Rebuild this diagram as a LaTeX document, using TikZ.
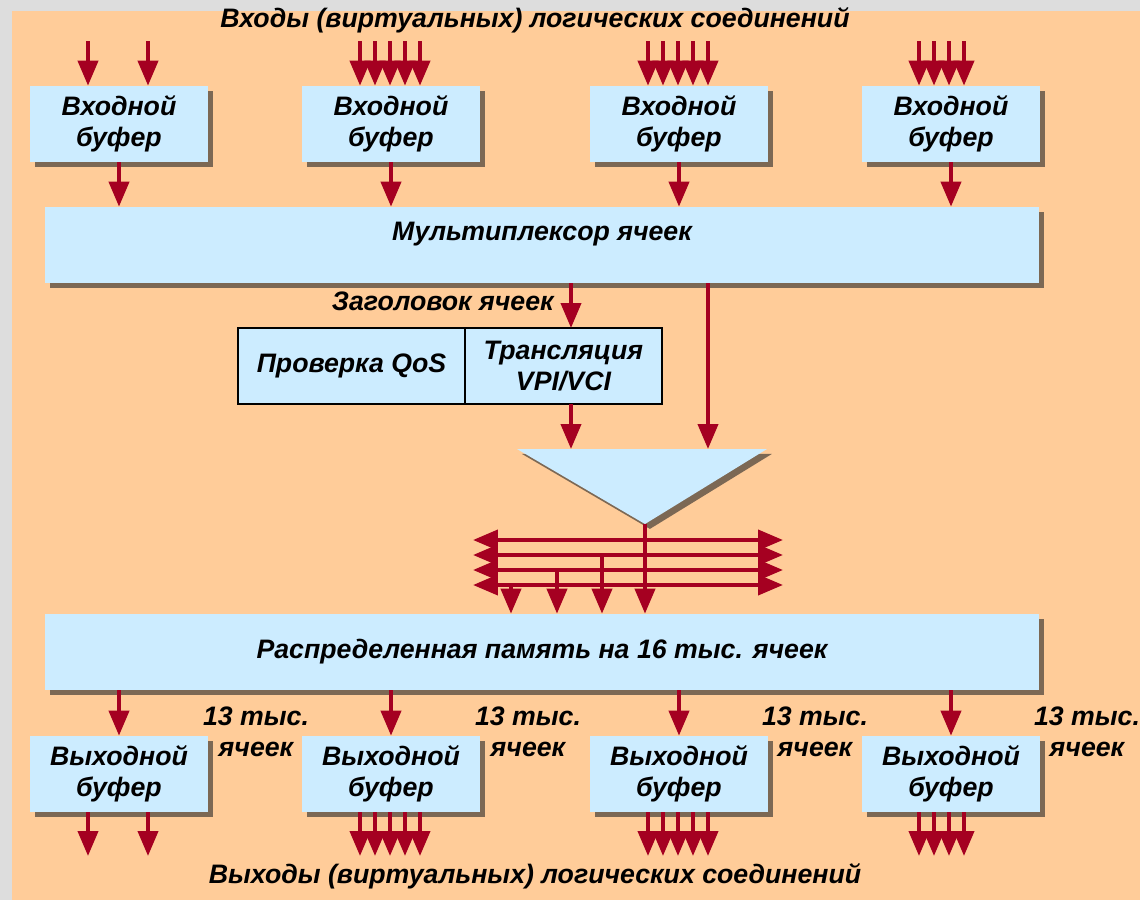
\documentclass[tikz,border=0pt]{standalone}
\usepackage{fontspec}
\setmainfont{Liberation Sans}
\usepackage{tikz}
\usetikzlibrary{arrows.meta,shadows}

\definecolor{bgorange}{RGB}{255,204,153}
\definecolor{bufblue}{RGB}{204,236,255}
\definecolor{arrred}{RGB}{165,0,33}
\definecolor{framegray}{RGB}{221,221,221}

\tikzset{
  lbl/.style={font=\fontsize{15.2}{17.6}\selectfont\bfseries\itshape, align=center, inner sep=0pt},
  shade/.style={drop shadow={shadow xshift=2.8pt, shadow yshift=-2.8pt, opacity=0.6, fill=black!85}},
  buf/.style={lbl, fill=bufblue, shade, minimum width=3.56cm, minimum height=1.52cm},
  wide/.style={buf, minimum width=19.9cm},
  hdrbox/.style={lbl, fill=bufblue, draw=black, line width=0.04cm, outer sep=0pt, minimum height=1.52cm},
  sig/.style={draw=arrred, line width=0.08cm, -{Triangle[width=0.4cm,length=0.5cm]}},
  bus/.style={sig, {Triangle[width=0.4cm,length=0.5cm]}-{Triangle[width=0.4cm,length=0.5cm]}}
}

\begin{document}
\begin{tikzpicture}[x=0.02cm, y=-0.02cm]
\useasboundingbox (0,0) rectangle (1140,900);

% grey frame and orange sheet
\fill[framegray] (0,0) rectangle (1140,900);
\fill[bgorange] (12,11) rectangle (1140,900);

% titles
\path
(535,20) node[lbl] (intitle) {Входы (виртуальных) логических соединений}
(535,876) node[lbl] (outtitle) {Выходы (виртуальных) логических соединений};

% input and output buffers
\foreach \n/\x in {1/119, 2/391, 3/679, 4/951}
 {
  \node[buf] (in\n) at (\x,124) {Входной\\буфер};
  \node[buf] (out\n) at (\x,774) {Выходной\\буфер};
 }

% multiplexer and shared memory
\node[wide] (mux) at (542,245) {};
\path (mux.center) ++(0,-11) node[lbl] (muxtext) {Мультиплексор ячеек};
\node[wide] (mem) at (542,652) {Распределенная память на 16 тыс. ячеек};

% header check and translation
\node[hdrbox, minimum width=4.54cm] (qos) at (351.5,366) {Проверка QoS};
\node[hdrbox, minimum width=3.94cm, anchor=west] (vpi) at (qos.east) {Трансляция\\VPI/VCI};
\node[lbl, anchor=east] (hdr) at (554,301) {Заголовок ячеек};

% cell counts of the output buffers
\foreach \n/\x in {1/256, 2/528, 3/815, 4/1087}
  \node[lbl] (cnt\n) at (\x,732) {13 тыс.\\ячеек};

% arrows of the logical connections, in and out
\foreach \n/\xs in {1/{88,148}, 2/{360,375,...,420}, 3/{648,663,...,708}, 4/{919,934,...,964}}
  \foreach \x in \xs
   {
    \coordinate (src) at (\x,41);
    \coordinate (dst) at (\x,856);
    \draw[sig] (src) -- (src |- in\n.north);
    \draw[sig] (dst |- out\n.south) -- (dst);
   }

% buffers to multiplexer, memory to buffers
\foreach \n in {1,...,4}
 {
  \draw[sig] (in\n.south) -- (in\n.south |- mux.north);
  \draw[sig] (out\n.north |- mem.south) -- (out\n.north);
 }

% switch triangle
\coordinate (trl) at (517,449);
\coordinate (trr) at (767,449);
\coordinate (tra) at (645,524);
\fill[bufblue, shade] (trl) -- (trr) -- (tra) -- cycle;

\coordinate (hdrx) at (571,0);
\coordinate (bypx) at (708,0);
\draw[sig] (mux.south -| hdrx) -- (vpi.north -| hdrx);
\draw[sig] (vpi.south -| hdrx) -- (trl -| hdrx);
\draw[sig] (mux.south -| bypx) -- (trl -| bypx);

% distribution bus
\foreach \i/\y in {1/540, 2/555, 3/570, 4/585}
 {
  \coordinate (bl\i) at (473,\y);
  \coordinate (br\i) at (783,\y);
  \draw[bus] (bl\i) -- (br\i);
 }
\draw[sig] (tra) -- (tra |- mem.north);
\foreach \i/\x in {2/602, 3/557, 4/511}
 {
  \coordinate (tap) at (\x,0);
  \draw[sig] (bl\i -| tap) -- (tap |- mem.north);
 }

\end{tikzpicture}
\end{document}
